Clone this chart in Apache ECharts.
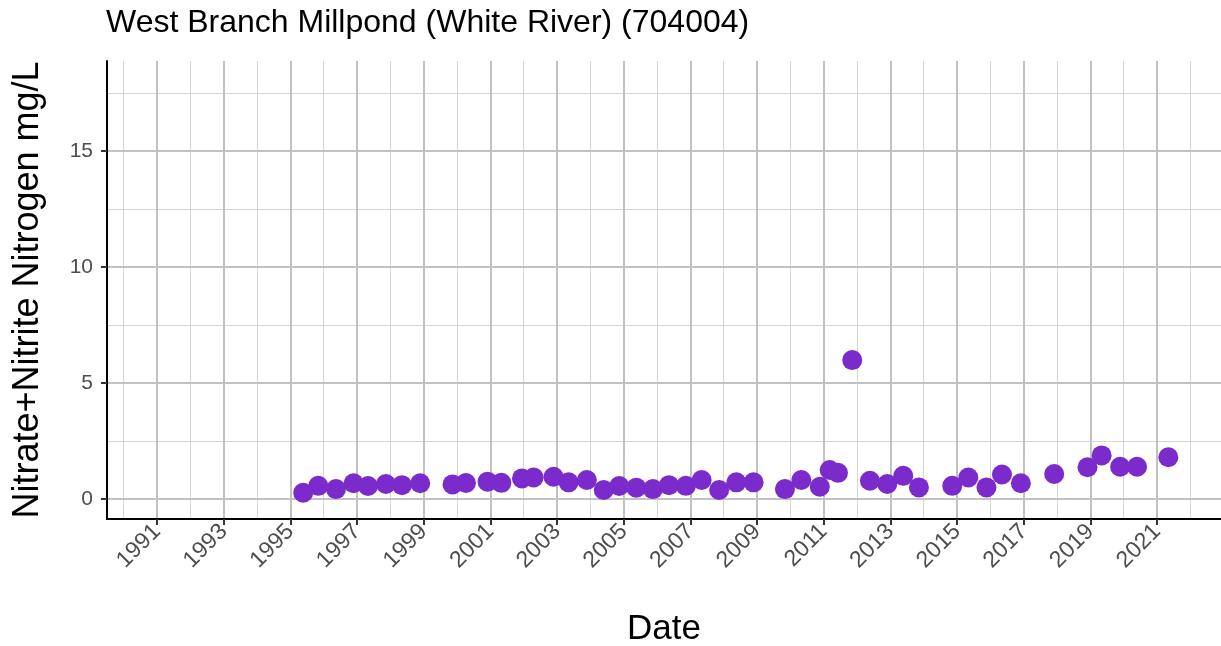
<!DOCTYPE html>
<html>
<head>
<meta charset="utf-8">
<script src="https://cdn.jsdelivr.net/npm/echarts@6/dist/echarts.min.js"></script>
<style>
html,body{margin:0;padding:0;background:#fff;}
#chart{width:1221px;height:646px;}
</style>
</head>
<body>
<div id="chart"></div>
<script>
const chartTitle = 'West Branch Millpond (White River) (704004)';
const xAxisName = 'Date';
const yAxisName = 'Nitrate+Nitrite Nitrogen mg/L';

const sampleDates = [
  '1995-05-22','1995-11-03','1996-05-15','1996-11-24','1997-05-01','1997-11-13',
  '1998-05-08','1998-11-24','1999-11-13','2000-04-08','2000-12-01','2001-05-01',
  '2001-12-13','2002-04-20','2002-11-24','2003-05-08','2003-11-24','2004-05-27',
  '2004-11-13','2005-05-19','2005-11-17','2006-05-12','2006-11-13','2007-05-05',
  '2007-11-13','2008-05-19','2008-11-24','2009-11-03','2010-05-01','2010-11-20',
  '2011-03-08','2011-06-07','2011-11-10','2012-05-22','2012-11-28','2013-05-22',
  '2013-11-10','2014-11-10','2015-05-05','2015-11-20','2016-05-08','2016-12-01',
  '2017-12-01','2018-12-01','2019-05-05','2019-11-24','2020-05-27','2021-05-05'
];
const nitrateValues = [
  0.27,0.57,0.43,0.68,0.56,0.65,
  0.60,0.68,0.63,0.69,0.75,0.70,
  0.89,0.93,0.96,0.72,0.82,0.39,
  0.56,0.49,0.43,0.60,0.57,0.82,
  0.39,0.72,0.72,0.43,0.82,0.53,
  1.25,1.13,5.99,0.79,0.65,1.00,
  0.50,0.57,0.93,0.50,1.06,0.68,
  1.08,1.37,1.88,1.39,1.39,1.80
];

const majorYears = [1991,1993,1995,1997,1999,2001,2003,2005,2007,2009,2011,2013,2015,2017,2019,2021];
const minorYears = [1990,1992,1994,1996,1998,2000,2002,2004,2006,2008,2010,2012,2014,2016,2018,2020,2022];
const yMajorTicks = [0,5,10,15];
const yMinorTicks = [2.5,7.5,12.5,17.5];

const xMinDate = '1989-07-02';
const xMaxDate = '2022-12-03';
const yMin = -0.86;
const yMax = 18.88;

const toTs = s => Date.UTC(+s.slice(0,4), +s.slice(5,7)-1, +s.slice(8,10));
const yearTs = y => Date.UTC(y, 0, 1);
const majorTs = majorYears.map(yearTs);
const minorTs = minorYears.map(yearTs);

const majorGridStyle = {color:'#c2c2c2', width:2, type:'solid'};
const minorGridStyle = {color:'#d6d6d6', width:1, type:'solid'};

const markData = []
  .concat(minorTs.map(t => ({xAxis:t, lineStyle:minorGridStyle})))
  .concat(yMinorTicks.map(v => ({yAxis:v, lineStyle:minorGridStyle})))
  .concat(majorTs.map(t => ({xAxis:t, lineStyle:majorGridStyle})))
  .concat(yMajorTicks.map(v => ({yAxis:v, lineStyle:majorGridStyle})));

const fontFam = 'Liberation Sans, Arial, sans-serif';
const chart = echarts.init(document.getElementById('chart'), null, {renderer:'canvas'});
chart.setOption({
  animation:false,
  backgroundColor:'#ffffff',
  title:{
    text:chartTitle, left:106, top:7, padding:0,
    textStyle:{fontFamily:fontFam, fontSize:32, fontWeight:'normal', color:'#000'}
  },
  grid:{left:107, right:0, top:61, bottom:127, containLabel:false, outerBoundsMode:'none'},
  xAxis:{
    type:'value', min:toTs(xMinDate), max:toTs(xMaxDate), scale:true,
    name:xAxisName, nameLocation:'middle', nameGap:93,
    nameTextStyle:{fontFamily:fontFam, fontSize:35, color:'#000'},
    axisLine:{show:true, onZero:false, lineStyle:{color:'#000', width:2}},
    axisTick:{show:true, customValues:majorTs, length:6, lineStyle:{color:'#333', width:2}},
    axisLabel:{
      show:true, customValues:majorTs, rotate:45, margin:9,
      fontFamily:fontFam, fontSize:23, color:'#4d4d4d',
      formatter:v => String(new Date(v).getUTCFullYear())
    },
    splitLine:{show:false}
  },
  yAxis:{
    type:'value', min:yMin, max:yMax,
    name:yAxisName, nameLocation:'middle', nameGap:61, nameRotate:90,
    nameTextStyle:{fontFamily:fontFam, fontSize:36, color:'#000'},
    axisLine:{show:true, onZero:false, lineStyle:{color:'#000', width:2}},
    axisTick:{show:true, customValues:yMajorTicks, length:6, lineStyle:{color:'#333', width:2}},
    axisLabel:{
      show:true, customValues:yMajorTicks, margin:14,
      fontFamily:fontFam, fontSize:21, color:'#4d4d4d'
    },
    splitLine:{show:false}
  },
  series:[
    {
      type:'line', data:[], silent:true, z:0,
      markLine:{
        silent:true, symbol:['none','none'], animation:false, z:0,
        label:{show:false}, emphasis:{disabled:true},
        data:markData
      }
    },
    {
      type:'scatter', z:5,
      symbol:'circle', symbolSize:20,
      itemStyle:{color:'#7B2ACC', opacity:1},
      data:sampleDates.map((d,i) => [toTs(d), nitrateValues[i]])
    }
  ]
});
</script>
</body>
</html>
